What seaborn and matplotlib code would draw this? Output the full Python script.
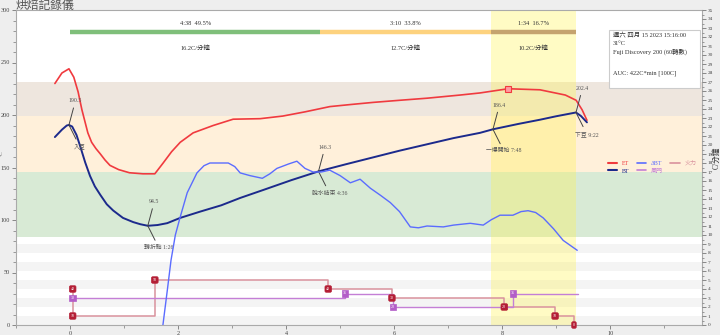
import matplotlib
matplotlib.use("Agg")
import matplotlib.pyplot as plt
from matplotlib.lines import Line2D
from matplotlib.patches import Rectangle
import numpy as np
import pandas as pd
import seaborn as sns

sns.set_theme(style="white")
FAM = ["Liberation Serif", "Noto Sans CJK TC", "DejaVu Sans"]
plt.rcParams["font.family"] = FAM

# ---------------- data (minutes, °C, °C/min) ----------------
et_t = [-0.28, -0.15, -0.02, 0.07, 0.15, 0.22, 0.28, 0.33, 0.40, 0.48, 0.56, 0.65, 0.74, 0.90,
        1.10, 1.35, 1.57, 1.72, 1.88, 2.04, 2.28, 2.65, 3.02, 3.52, 3.94, 4.35, 4.81, 5.2, 5.61,
        6.1, 6.61, 7.22, 7.59, 8.11, 8.7, 9.17, 9.37, 9.48, 9.57]
et_v = [230, 240, 244, 236, 222, 205, 193, 183, 174, 168, 163, 157, 152, 148,
        145, 144, 144, 154, 165, 174, 183, 190, 196, 196.5, 199, 203, 208, 210, 212,
        214, 216, 219, 221, 225, 224, 219, 214, 205, 195]

bt_t = [-0.28, -0.15, -0.06, -0.02, 0.04, 0.12, 0.19, 0.28, 0.37, 0.46, 0.56, 0.68, 0.80, 0.98,
        1.17, 1.30, 1.44, 1.62, 1.80, 2.04, 2.41, 2.80, 3.15, 3.60, 4.10, 4.60, 5.10, 5.60, 6.10,
        6.60, 7.10, 7.59, 7.83, 8.30, 8.70, 9.00, 9.367, 9.46, 9.57]
bt_v = [179, 186, 190, 190.5, 189, 181, 170, 155, 142, 132, 124, 115, 109, 102,
        98, 96, 94.5, 95.2, 97, 102, 108, 114, 121, 129, 138, 146.3, 153, 159.5, 166,
        172, 178, 183, 186.4, 191.5, 195.5, 198.8, 202.4, 199, 193]

dbt_t = [1.72, 1.80, 1.87, 1.95, 2.04, 2.17, 2.35, 2.48, 2.59, 2.93, 3.05, 3.15, 3.33, 3.56,
         3.70, 3.83, 4.05, 4.20, 4.35, 4.50, 4.65, 4.81, 5.00, 5.19, 5.37, 5.56, 5.75, 5.93,
         6.10, 6.30, 6.45, 6.61, 6.91, 7.10, 7.41, 7.65, 7.80, 7.96, 8.20, 8.35, 8.48, 8.62,
         8.76, 8.95, 9.13, 9.39]
dbt_v = [0.0, 3.8, 7.2, 10.0, 12.0, 14.7, 16.9, 17.7, 18.0, 18.0, 17.6, 16.9, 16.6, 16.3,
         16.8, 17.4, 17.9, 18.2, 17.4, 17.0, 17.0, 17.2, 16.6, 15.8, 16.2, 15.2, 14.4, 13.6,
         12.6, 10.9, 10.8, 11.0, 10.9, 11.1, 11.3, 11.1, 11.7, 12.2, 12.2, 12.6, 12.7, 12.5,
         11.9, 10.7, 9.4, 8.3]

burner_t = [0.05, 0.05, 1.57, 4.78, 5.96, 8.04, 8.98, 9.33]
burner_v = [40, 10, 50, 40, 30, 20, 10, 0]
air_t = [0.05, 5.09, 5.98, 8.20, 9.41]
air_v = [30, 35, 20, 35, 35]

phase_edges = [0.0, 4.633, 7.8, 9.367]
phase_top = ["4:38  49.5%", "3:10  33.8%", "1:34  16.7%"]
phase_bottom = ["16.2C/分鐘", "12.7C/分鐘", "10.2C/分鐘"]
phase_colors = ["#7fbf7a", "#fdd27e", "#c5a36f"]

ann_t = [-0.02, 1.44, 4.60, 7.83, 9.367]
ann_v = [190.5, 94.5, 146.3, 186.4, 202.4]
ann_name = ["入豆", "轉折點 1:26", "脫水結束 4:36", "一爆開始 7:48", "下豆 9:22"]

info_lines = ["週六 四月 15 2023 15:16:00", "31°C", "Fuji Discovery 200 (60轉數)", "", "",
              "AUC: 422C*min [100C]"]

et_df = pd.DataFrame({"t": et_t, "v": et_v})
bt_df = pd.DataFrame({"t": bt_t, "v": bt_v})
dbt_df = pd.DataFrame({"t": dbt_t, "v": dbt_v})

C_ET, C_BT, C_DBT = "#f03a3f", "#1c2a8c", "#5b6cff"
C_AIR, C_BURN = "#c47fd6", "#d9929d"

# ---------------- figure ----------------
fig = plt.figure(figsize=(7.2, 3.35), dpi=100, facecolor="#eeeeee")
ax = fig.add_axes([16 / 720, 10 / 335, 686 / 720, 315 / 335])
ax.set_facecolor("white")
YMAX, RMAX = 300, 35
ax.set_xlim(-1.0, 11.7)
ax.set_ylim(0, YMAX)

# background stripes (every other unit of the RoR axis below the bands)
sc = YMAX / RMAX
for k in range(5):
    ax.axhspan(2 * k * sc, (2 * k + 1) * sc, color="#f4f4f4", lw=0, zorder=0)
ax.axhspan(199, 231, color="#eee6de", lw=0, zorder=0.1)
ax.axhspan(146, 199, color="#fff0da", lw=0, zorder=0.1)
ax.axhspan(84, 146, color="#d8ead5", lw=0, zorder=0.1)
ax.axvspan(phase_edges[2], phase_edges[3], color="#fff34d", alpha=0.33, lw=0, zorder=0.2)

# phase bar
for i in range(3):
    a, b = phase_edges[i], phase_edges[i + 1]
    ax.plot([a, b], [279, 279], color=phase_colors[i], lw=3.2, solid_capstyle="butt", zorder=2)
    m = (a + b) / 2
    ax.text(m, 287, phase_top[i], ha="center", va="center", fontsize=4.6, color="#333")
    ax.text(m, 263.5, phase_bottom[i], ha="center", va="center", fontsize=4.6, color="#333")

sns.lineplot(data=et_df, x="t", y="v", ax=ax, color=C_ET, lw=1.2, sort=False, zorder=3)
sns.lineplot(data=bt_df, x="t", y="v", ax=ax, color=C_BT, lw=1.4, sort=False, zorder=3)
ax.plot(et_t[33], et_v[33], marker="s", ms=4, mfc="#ff9aa0", mec=C_ET, mew=0.8, zorder=4)

# annotations
for t, v, name in zip(ann_t, ann_v, ann_name):
    ax.annotate(f"{v:.1f}", xy=(t, v), xytext=(t + 0.12, v + 23), fontsize=4.2, color="#555",
                ha="center", va="center",
                arrowprops=dict(arrowstyle="-", color="#444", lw=0.7, shrinkA=1, shrinkB=0), zorder=5)
    ax.annotate(name, xy=(t, v), xytext=(t + 0.2, v - 20.5), fontsize=4.2, color="#555",
                ha="center", va="center",
                arrowprops=dict(arrowstyle="-", color="#444", lw=0.7, shrinkA=1, shrinkB=0), zorder=5)

# axes styling
ax.set_xticks(range(0, 12, 2))
ax.set_xticks(range(-1, 12, 1), minor=True)
ax.set_yticks(range(0, 301, 50))
ax.set_yticks(range(0, 301, 10), minor=True)
ax.tick_params(axis="both", which="major", labelsize=4.5, length=3, width=0.6, color="#777",
               labelcolor="#444", direction="out", pad=1.5, left=True, bottom=True)
ax.tick_params(axis="both", which="minor", length=2, width=0.5, color="#777", left=True, bottom=True)
ax.set_xlabel("")
ax.set_ylabel("")
ax.text(-0.0205, 0.545, "°C", transform=ax.transAxes, rotation=90, fontsize=3.8, color="#444",
        ha="center", va="center")
for s in ax.spines.values():
    s.set_color("#aaaaaa")
    s.set_linewidth(0.8)

# RoR axis
ax2 = ax.twinx()
ax2.set_ylim(0, RMAX)
sns.lineplot(data=dbt_df, x="t", y="v", ax=ax2, color=C_DBT, lw=1.0, sort=False, zorder=3)
ax2.step(burner_t, [v / 10 for v in burner_v], where="post", color=C_BURN, lw=1.1, zorder=2)
ax2.step(air_t, [v / 10 for v in air_v], where="post", color=C_AIR, lw=1.0, zorder=2)
for t, v in zip(burner_t, burner_v):
    ax2.text(t, v / 10, f"{v}", fontsize=3.0, color="white", ha="center", va="center", zorder=6,
             bbox=dict(boxstyle="round,pad=0.3", fc="#b41e35", ec="#b41e35", lw=0.5))
for t, v in zip(air_t[:-1], air_v[:-1]):
    ax2.text(t, v / 10, f"{v}", fontsize=3.0, color="white", ha="center", va="center", zorder=6,
             bbox=dict(boxstyle="square,pad=0.3", fc="#b35ec8", ec="#b35ec8", lw=0.5))
ax2.set_yticks(range(0, 36))
ax2.set_yticks(np.arange(0, 35.5, 0.5), minor=True)
ax2.tick_params(axis="y", which="major", labelsize=3.8, length=3, width=0.6, color="#777",
                labelcolor="#444", pad=1, right=True)
ax2.tick_params(axis="y", which="minor", length=1.5, width=0.5, color="#777", right=True)
ax2.set_ylabel("")
ax2.text(1.0215, 0.53, "C/分鐘", transform=ax2.transAxes, rotation=90, fontsize=5.5,
         color="#333", ha="center", va="center")
ax2.set_xlabel("")
ax2.grid(False)
for s in ax2.spines.values():
    s.set_visible(False)

# legend
handles = [Line2D([], [], color=C_ET, lw=1.5), Line2D([], [], color=C_BT, lw=1.5),
           Line2D([], [], color=C_DBT, lw=1.2), Line2D([], [], color=C_AIR, lw=1.2),
           Line2D([], [], color=C_BURN, lw=1.2)]
labels = ["ET", "BT", "ΔBT", "風門", "火力"]
leg = ax.legend(handles, labels, ncol=3, loc="upper right", bbox_to_anchor=(1.0, 0.54),
                frameon=False, fontsize=4.3, handlelength=1.6, columnspacing=1.2,
                labelspacing=0.45, handletextpad=0.8)
for txt, h in zip(leg.get_texts(), handles):
    txt.set_color(h.get_color())

# info box
ax.add_patch(Rectangle((0.8644, 0.752), 0.1327, 0.184, transform=ax.transAxes,
                       fc="white", ec="#cccccc", lw=0.8, zorder=6))
ax.text(0.870, 0.928, "\n".join(info_lines), transform=ax.transAxes, fontsize=4.6,
        color="#333", ha="left", va="top", linespacing=1.5, zorder=7)

fig.text(16 / 720, (335 - 9) / 335, "烘焙記錄儀", fontsize=8.5, color="#555",
         va="baseline", ha="left", family=["Noto Sans CJK TC", "DejaVu Sans"])

fig.savefig("out.png", dpi=100, facecolor=fig.get_facecolor())
